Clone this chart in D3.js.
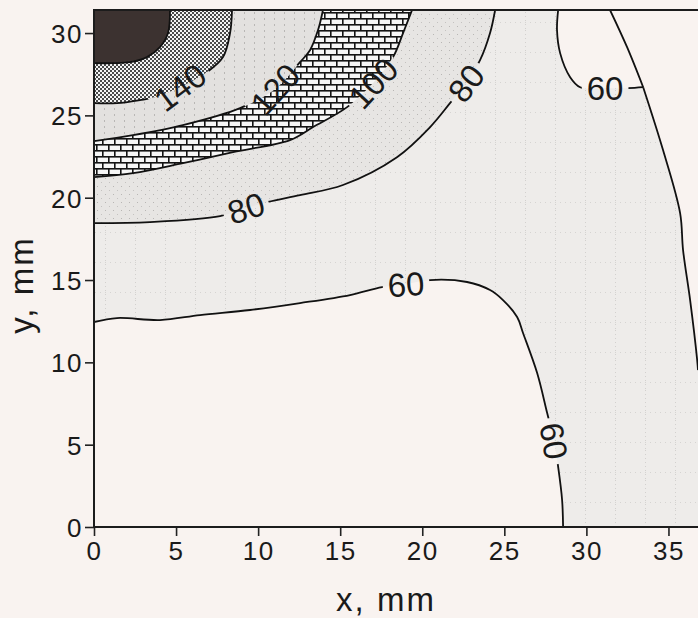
<!DOCTYPE html>
<html><head><meta charset="utf-8">
<script src="https://cdn.jsdelivr.net/npm/d3@7"></script>
<style>
html,body{margin:0;padding:0;background:#f9f3f0;}
svg{display:block;}
text{font-family:"Liberation Sans Narrow","Arial Narrow","Liberation Sans",Arial,sans-serif;fill:#1a1a1a;}
</style></head>
<body>
<svg id="chart" width="698" height="618"></svg>
<script>
// ---------- data (x, y in mm) ----------
const xTicks = [0, 5, 10, 15, 20, 25, 30, 35];
const yTicks = [0, 5, 10, 15, 20, 25, 30];
const xExtent = [0, 36.8];
const yExtent = [0, 31.4];

// contour lines, each running from the top edge to the left edge
const c160 = [[4.63,31.4],[4.51,30.0],[4.02,29.14],[3.23,28.54],[2.19,28.23],[1.16,28.17],[0,28.17]];
const c140 = [[8.41,31.4],[8.29,30.0],[7.86,28.54],[6.89,27.63],[5.24,26.71],[3.72,26.11],[2.80,25.93],[1.40,25.74],[0,25.74]];
const c120 = [[13.95,31.4],[13.65,30.18],[13.16,28.96],[12.55,28.23],[11.03,26.59],[8.90,25.44],[5.42,24.41],[2.38,23.80],[0,23.44]];
const c100 = [[19.38,31.4],[18.83,30.0],[18.22,28.54],[17.0,26.96],[15.42,25.50],[13.35,24.29],[11.94,23.50],[8.47,22.77],[5.42,22.10],[2.38,21.49],[0,21.25]];
const c80  = [[24.44,31.4],[24.13,30.0],[23.52,28.35],[22.67,26.96],[21.69,25.74],[20.48,24.29],[18.46,22.46],[15.17,20.77],[12.55,20.16],[10.60,19.74],[9.26,19.37],[7.68,18.88],[3.41,18.52],[0,18.46]];
// 60 contour: main branch from left edge to bottom edge
const c60main = [[0,12.45],[1.40,12.69],[4.02,12.57],[6.46,12.87],[9.51,13.18],[12.55,13.60],[15.60,14.09],[17.55,14.57],[19.01,14.75],[20.48,15.0],[22.73,14.88],[24.13,14.39],[24.92,13.78],[25.78,12.75],[26.14,11.78],[27.0,9.35],[27.61,6.92],[28.03,5.22],[28.28,3.64],[28.52,1.64],[28.58,0]];
// 60 contour near the top-right: tongue branch (top edge -> saddle)
const c60tongue = [[28.28,31.4],[28.21,30.18],[28.40,28.78],[29.01,27.32],[29.62,26.71],[31.14,26.65],[32.54,26.65],[33.46,26.71]];
// 60 contour: right branch, top edge -> saddle, saddle -> right edge
const c60rightUpper = [[31.44,31.4],[32.48,29.14],[33.46,26.71]];
const c60rightLower = [[33.46,26.71],[34.67,22.89],[35.71,19.06],[35.89,16.82],[36.32,13.78],[36.75,10.14],[36.8,9.53]];

const contourLabels = [
  {text:"140", x:5.24,  y:26.71, angle:-37},
  {text:"120", x:11.03, y:26.59, angle:-48},
  {text:"100", x:17.0,  y:26.96, angle:-47},
  {text:"80",  x:22.67, y:26.96, angle:-53},
  {text:"80",  x:9.26,  y:19.37, angle:-18},
  {text:"60",  x:19.01, y:14.75, angle:-4},
  {text:"60",  x:31.14, y:26.65, angle:0},
  {text:"60",  x:28.03, y:5.22,  angle:80}
];

// ---------- layout ----------
const svg = d3.select("#chart");
const x = d3.scaleLinear().domain(xExtent).range([94, 698]);
const y = d3.scaleLinear().domain(yExtent).range([527, 10]);
const X0 = x(xExtent[0]), X1 = x(xExtent[1]), Y0 = y(yExtent[0]), Y1 = y(yExtent[1]);

const defs = svg.append("defs");
defs.append("clipPath").attr("id","plotclip").append("rect")
  .attr("x",X0).attr("y",Y1).attr("width",X1-X0+2).attr("height",Y0-Y1);

// patterns
function pat(id,w,h){return defs.append("pattern").attr("id",id).attr("patternUnits","userSpaceOnUse").attr("width",w).attr("height",h);}
// 60-80: light grey with faint dotted grid
let p = pat("p60",30,30);
p.append("rect").attr("width",30).attr("height",30).attr("fill","#eeecea");
p.append("line").attr("x1",15.5).attr("x2",15.5).attr("y1",0).attr("y2",30).attr("stroke","#d2d0ce").attr("stroke-width",1).attr("stroke-dasharray","1,3");
p.append("line").attr("x1",0).attr("x2",30).attr("y1",22.5).attr("y2",22.5).attr("stroke","#d6d4d2").attr("stroke-width",1).attr("stroke-dasharray","1,4");
// 80-100: a bit darker, speckled
p = pat("p80",8,8);
p.append("rect").attr("width",8).attr("height",8).attr("fill","#e7e5e3");
p.append("rect").attr("x",1).attr("y",2).attr("width",1).attr("height",1).attr("fill","#b8b6b4");
p.append("rect").attr("x",5).attr("y",6).attr("width",1).attr("height",1).attr("fill","#c4c2c0");
// 100-120: bricks
p = pat("pbrick",12,12);
p.append("rect").attr("width",12).attr("height",12).attr("fill","#141414");
p.append("rect").attr("x",1.6).attr("y",1.6).attr("width",10.4).attr("height",4.4).attr("fill","#f6f6f6");
p.append("rect").attr("x",7.6).attr("y",7.6).attr("width",4.4).attr("height",4.4).attr("fill","#f6f6f6");
p.append("rect").attr("x",0).attr("y",7.6).attr("width",6).attr("height",4.4).attr("fill","#f6f6f6");
// 120-140: light grey with vertical dotted lines
p = pat("p120",10,6);
p.append("rect").attr("width",10).attr("height",6).attr("fill","#e3e1df");
p.append("rect").attr("x",4).attr("y",0).attr("width",1).attr("height",2).attr("fill","#b9b7b5");
// 140-160: dense dots
p = pat("p140",4,4);
p.append("rect").attr("width",4).attr("height",4).attr("fill","#f4f4f4");
p.append("rect").attr("x",0).attr("y",0).attr("width",2).attr("height",2).attr("fill","#4a4a4a");
p.append("rect").attr("x",2).attr("y",2).attr("width",2).attr("height",2).attr("fill","#4a4a4a");

const lineGen = d3.line().x(d=>x(d[0])).y(d=>y(d[1])).curve(d3.curveCatmullRom.alpha(0.5));
const cont = pts => lineGen(pts).replace(/^M/,"L");

const fills = svg.append("g").attr("clip-path","url(#plotclip)");
// below 60 -> page background
fills.append("rect").attr("x",X0).attr("y",Y1).attr("width",X1-X0+2).attr("height",Y0-Y1).attr("fill","#f9f3f0");
// 60-80 region
const tl = `L${X0},${Y1 - 2}`;
const p60 = lineGen(c60main)
  + `L${X1+2},${Y0}`
  + `L${X1+2},${y(c60rightLower[c60rightLower.length-1][1])}`
  + cont(c60rightLower.slice().reverse())
  + cont(c60tongue.slice().reverse())
  + `L${x(c60tongue[0][0])},${Y1-2}` + tl + "Z";
fills.append("path").attr("d",p60).attr("fill","url(#p60)");
const bands = [[c80,"url(#p80)"],[c100,"url(#pbrick)"],[c120,"url(#p120)"],[c140,"url(#p140)"],[c160,"#3c3230"]];
bands.forEach(([c,f])=>{
  const d = `M${x(c[0][0])},${Y1-2}` + cont(c) + tl + "Z";
  fills.append("path").attr("d",d).attr("fill",f);
});

// labels (measure to build mask for line gaps)
const labG = svg.append("g").attr("clip-path","url(#plotclip)");
const labs = labG.selectAll("text").data(contourLabels).join("text")
  .attr("x",d=>x(d.x)).attr("y",d=>y(d.y)).attr("dy","0.36em")
  .attr("text-anchor","middle").attr("font-size",33)
  .attr("transform",d=>`rotate(${d.angle},${x(d.x)},${y(d.y)})`)
  .text(d=>d.text);

const mask = defs.append("mask").attr("id","labmask").attr("maskUnits","userSpaceOnUse")
  .attr("x",0).attr("y",0).attr("width",698).attr("height",618);
mask.append("rect").attr("width",698).attr("height",618).attr("fill","white");
labs.each(function(d){
  const b = this.getBBox();
  mask.append("rect").attr("x",b.x-5).attr("y",b.y+2).attr("width",b.width+10).attr("height",b.height-4)
    .attr("fill","black").attr("transform",`rotate(${d.angle},${x(d.x)},${y(d.y)})`);
});

const lines = svg.insert("g", function(){return labG.node();}).attr("clip-path","url(#plotclip)")
  .append("g").attr("mask","url(#labmask)");
[c160,c140,c120,c100,c80,c60main,c60tongue,c60rightUpper,c60rightLower].forEach(c=>{
  lines.append("path").attr("d",lineGen(c)).attr("fill","none").attr("stroke","#111").attr("stroke-width",1.8);
});

// axes
const ax = svg.append("g").attr("transform",`translate(0,${Y0})`)
  .call(d3.axisBottom(x).tickValues(xTicks).tickSize(9).tickSizeOuter(0).tickPadding(6));
const ay = svg.append("g").attr("transform",`translate(${X0},0)`)
  .call(d3.axisLeft(y).tickValues(yTicks).tickSize(9).tickSizeOuter(0).tickPadding(2));
[ax,ay].forEach(g=>{
  g.select(".domain").remove();
  g.selectAll(".tick line").attr("stroke","#222").attr("stroke-width",1.6);
  g.selectAll(".tick text").attr("font-size",26).attr("letter-spacing",1.5).attr("fill","#222")
    .style("font-family",'"Liberation Sans Narrow","Arial Narrow","Liberation Sans",Arial,sans-serif');
});
ay.selectAll(".tick text").attr("dy","0.36em");

// frame
svg.append("path").attr("d",`M${X1+4},${Y1}L${X0},${Y1}L${X0},${Y0}L${X1+4},${Y0}`)
  .attr("fill","none").attr("stroke","#1c1c1c").attr("stroke-width",2);

// axis titles
svg.append("text").attr("x",386).attr("y",611).attr("text-anchor","middle")
  .attr("font-size",33).attr("letter-spacing",2).text("x, mm");
svg.append("text").attr("transform","translate(33,285) rotate(-90)").attr("text-anchor","middle")
  .attr("font-size",33).attr("letter-spacing",2).text("y, mm");
</script>
</body></html>
